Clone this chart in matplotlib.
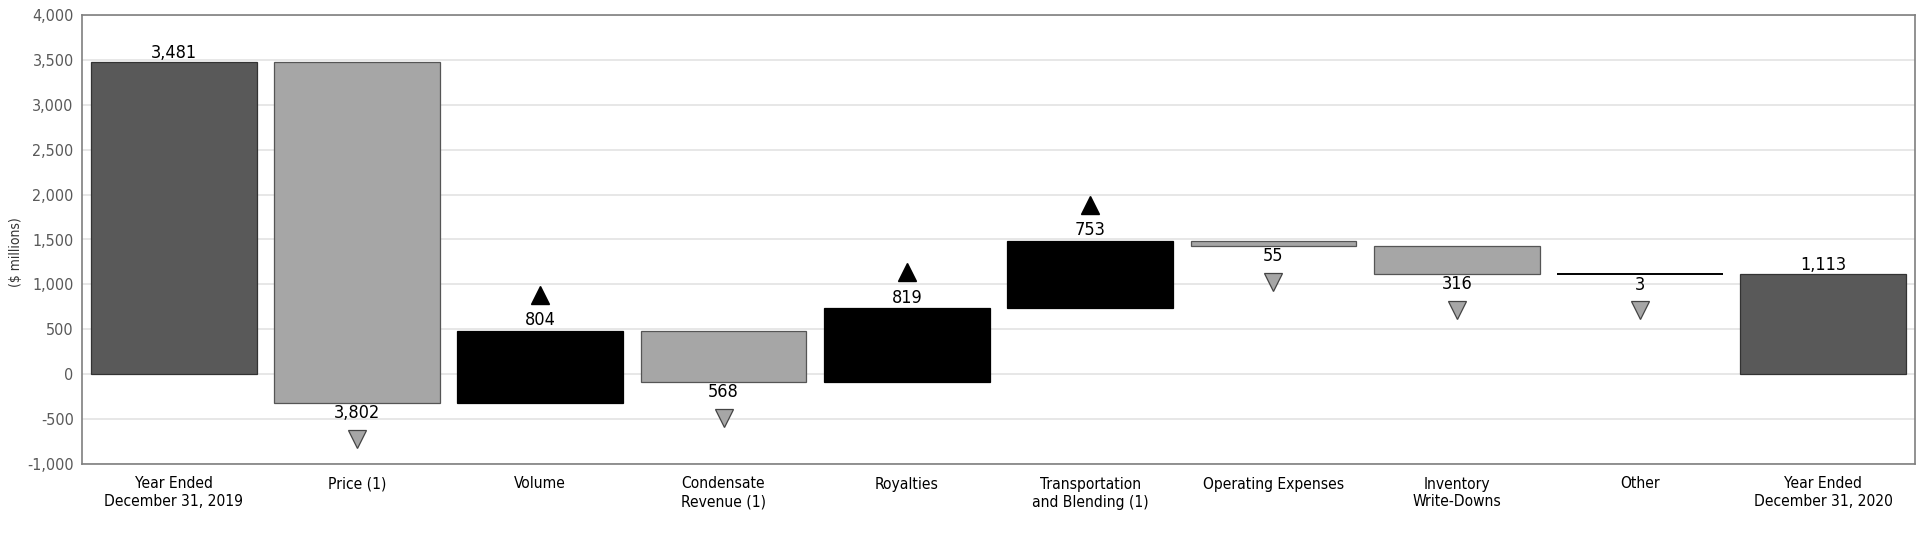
import matplotlib
matplotlib.use("Agg")
import matplotlib.pyplot as plt
from matplotlib.transforms import ScaledTranslation
from matplotlib.ticker import FuncFormatter

plt.rcParams["font.family"] = "DejaVu Sans"
plt.rcParams["font.stretch"] = "condensed"

categories = ["Year Ended\nDecember 31, 2019", "Price (1)", "Volume", "Condensate\nRevenue (1)",
              "Royalties", "Transportation\nand Blending (1)", "Operating Expenses",
              "Inventory\nWrite-Downs", "Other", "Year Ended\nDecember 31, 2020"]
start_value = 3481
changes = [-3802, 804, -568, 819, 753, -55, -316, -3]
end_value = 1113

total_color = "#595959"
up_color = "#000000"
down_color = "#a6a6a6"

fig = plt.figure(figsize=(19.26, 5.44), dpi=100)
ax = fig.add_axes([82 / 1926, 1 - 464 / 544, (1915 - 82) / 1926, (464 - 15) / 544])

# waterfall bottoms / heights
bottoms = [0]
heights = [start_value]
running = start_value
for c in changes:
    if c < 0:
        bottoms.append(running + c)
    else:
        bottoms.append(running)
    heights.append(abs(c))
    running += c
bottoms.append(0)
heights.append(end_value)

n = len(categories)
x = list(range(n))
w = 0.905
for i in x:
    lw = 0.9
    if i == 0 or i == n - 1:
        fc, ec = total_color, "#333333"
    else:
        c = changes[i - 1]
        if i == n - 2:
            fc, ec, lw = down_color, "#000000", 1.4
        elif c < 0:
            fc, ec = down_color, "#555555"
        else:
            fc, ec = up_color, up_color
    ax.bar(i, heights[i], bottom=bottoms[i], width=w, color=fc, edgecolor=ec,
           linewidth=lw, zorder=3)

lab_size = 13
up_shift = ax.transData + ScaledTranslation(0, 26 / 72, fig.dpi_scale_trans)
down_shift = ax.transData + ScaledTranslation(0, -26 / 72, fig.dpi_scale_trans)

ax.annotate("{:,}".format(start_value), (0, start_value), xytext=(0, 0), textcoords="offset points",
            ha="center", va="bottom", fontsize=lab_size)
ax.annotate("{:,}".format(end_value), (n - 1, end_value), xytext=(0, 0),
            textcoords="offset points", ha="center", va="bottom", fontsize=lab_size)
for k, c in enumerate(changes):
    i = k + 1
    if c >= 0:
        top = bottoms[i] + heights[i]
        ax.annotate("{:,}".format(abs(c)), (i, top), xytext=(0, 1), textcoords="offset points",
                    ha="center", va="bottom", fontsize=lab_size)
        ax.plot([i], [top], marker="^", ms=13, color=up_color, zorder=4, transform=up_shift)
    else:
        bot = bottoms[i]
        ax.annotate("{:,}".format(abs(c)), (i, bot), xytext=(0, -1), textcoords="offset points",
                    ha="center", va="top", fontsize=lab_size)
        ax.plot([i], [bot], marker="v", ms=13, color=down_color, markeredgecolor="#444444",
                markeredgewidth=0.9, zorder=4, transform=down_shift)

ax.set_xlim(-0.5, n - 0.5)
ax.set_ylim(-1000, 4000)
ax.set_yticks(range(-1000, 4001, 500))
ax.yaxis.set_major_formatter(FuncFormatter(lambda v, p: "{:,}".format(int(v))))
ax.set_xticks(x)
ax.set_xticklabels(categories, fontsize=11.2, linespacing=1.25)
ax.tick_params(axis="y", labelsize=11.5, labelcolor="#595959", length=0, pad=6)
ax.tick_params(axis="x", length=0, pad=9)
ax.grid(axis="y", color="#e3e3e3", linewidth=1.2, zorder=0)
ax.set_axisbelow(True)
for s in ax.spines.values():
    s.set_color("#7f7f7f")
    s.set_linewidth(1.2)
fig.text(16 / 1926, 1 - 252 / 544, "($ millions)", rotation=90, ha="center", va="center",
         fontsize=10, color="#333333")

fig.savefig("out.png", dpi=100)
